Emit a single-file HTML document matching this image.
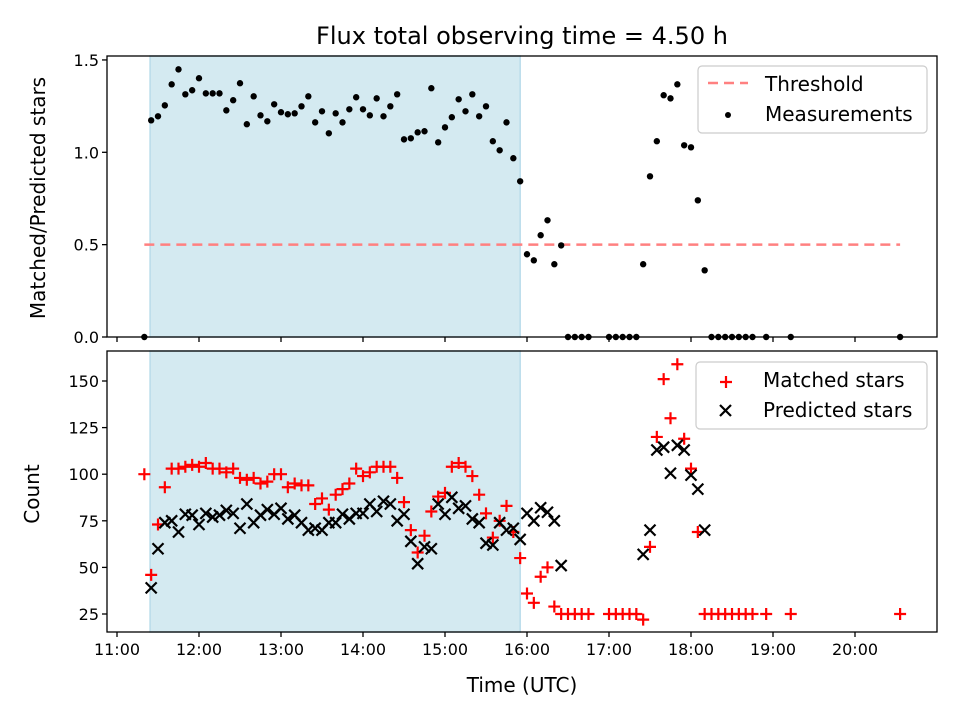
<!DOCTYPE html>
<html><head><meta charset="utf-8"><style>
body{margin:0;background:#fff;}
svg{display:block;font-family:"DejaVu Sans","Liberation Sans",sans-serif;}
</style></head><body>
<svg id="chart" width="960" height="720" viewBox="0 0 960 720">
<text x="522" y="44" font-size="24" text-anchor="middle">Flux total observing time = 4.50 h</text>
<g id="topPanel"></g>
<g id="botPanel"></g>
<text x="45" y="198" font-size="20" text-anchor="middle" transform="rotate(-90 45 198)">Matched/Predicted stars</text>
<text x="39" y="494" font-size="20" text-anchor="middle" transform="rotate(-90 39 494)">Count</text>
<text x="522" y="692" font-size="20" text-anchor="middle">Time (UTC)</text>
<g>
<rect x="698" y="66" width="229" height="67" rx="4" fill="#fff" fill-opacity="0.8" stroke="#ccc" stroke-width="1.2"/>
<line x1="708" x2="748" y1="83" y2="83" stroke="#ff8080" stroke-width="2.5" stroke-dasharray="10 6"/>
<text x="765" y="91" font-size="20">Threshold</text>
<circle cx="728" cy="115" r="3" fill="#000"/>
<text x="765" y="121" font-size="20">Measurements</text>
</g>
<g>
<rect x="696" y="362" width="231" height="67" rx="4" fill="#fff" fill-opacity="0.8" stroke="#ccc" stroke-width="1.2"/>
<path d="M720 382H732M726 376V388" stroke="#ff0000" stroke-width="2.2"/>
<text x="763" y="387" font-size="20">Matched stars</text>
<path d="M720 405L731 416M720 416L731 405" stroke="#000" stroke-width="2.2"/>
<text x="763" y="417" font-size="20">Predicted stars</text>
</g>
</svg>
<script>
// times in minutes after 11:00 UTC
const ratioTimes = [20,25,30,35,40,45,50,55,60,65,70,75,80,85,90,95,100,105,110,115,120,125,130,135,140,145,150,155,160,165,170,175,180,185,190,195,200,205,210,215,220,225,230,235,240,245,250,255,260,265,270,275,280,285,290,295,300,305,310,315,320,325,330,335,340,345,360,365,370,375,380,385,390,395,400,405,410,415,420,425,430,435,440,445,450,455,460,465,475,493,573];
const ratioValues = [0,1.173,1.195,1.254,1.368,1.449,1.314,1.336,1.401,1.319,1.319,1.319,1.227,1.282,1.374,1.152,1.303,1.200,1.168,1.260,1.217,1.206,1.211,1.249,1.303,1.162,1.222,1.103,1.211,1.162,1.233,1.298,1.233,1.200,1.292,1.195,1.249,1.314,1.070,1.076,1.108,1.114,1.347,1.054,1.135,1.190,1.287,1.222,1.314,1.195,1.249,1.060,1.011,1.162,0.968,0.843,0.448,0.415,0.551,0.632,0.394,0.496,0,0,0,0,0,0,0,0,0,0.394,0.870,1.060,1.309,1.292,1.368,1.038,1.027,0.740,0.361,0,0,0,0,0,0,0,0,0,0];
const matchedTimes = [20,25,30,35,40,45,50,55,60,65,70,75,80,85,90,95,100,105,110,115,120,125,130,135,140,145,150,155,160,165,170,175,180,185,190,195,200,205,210,215,220,225,230,235,240,245,250,255,260,265,270,275,280,285,290,295,300,305,310,315,320,325,330,335,340,345,360,365,370,375,380,385,390,395,400,405,410,415,420,425,430,435,440,445,450,455,460,465,475,493,573];
const matchedValues = [100,46,73,93,103,103,104,105,104,106,103,103,101,103,98,97,98,95,96,100,100,93,95,94,94,84,87,81,89,92,95,103,99,101,104,104,104,98,85,70,58,67,80,88,90,104,106,104,99,89,79,66,75,83,69,55,36,31,45,50,29,25,25,25,25,25,25,25,25,25,25,22,61,120,151,130,159,119,103,69,25,25,25,25,25,25,25,25,25,25,25];
const predictedTimes = [25,30,35,40,45,50,55,60,65,70,75,80,85,90,95,100,105,110,115,120,125,130,135,140,145,150,155,160,165,170,175,180,185,190,195,200,205,210,215,220,225,230,235,240,245,250,255,260,265,270,275,280,285,290,295,300,305,310,315,320,325,385,390,395,400,405,410,415,420,425,430];
const predictedValues = [39,60,74,75,69,78.5,78,73,79,77,78,80.6,79,71,84,74,78,81,78.5,81.7,76,78,74,70,71,70,74,74,78.5,76,79,79,84,80,85.5,84,75,78.5,64,52,61,60,84,78.5,87.6,81.7,83,76,74,63,62,74,70,71,65,79,75,82,79.6,75,51,57,70,113,114.5,100.5,115.5,113,99.5,92,70];
const hourTicks = ["11:00","12:00","13:00","14:00","15:00","16:00","17:00","18:00","19:00","20:00"];
const ratioTicks = [0.0,0.5,1.0,1.5];
const countTicks = [25,50,75,100,125,150];
const threshold = 0.5;
const shadeRange = [24.2,295];
const thresholdRange = [20,573];

const NS="http://www.w3.org/2000/svg";
const L=107,R=937;
const xS=m=>117+m/60*82;
const yT=v=>337-v*184.7;
const yB=v=>614-(v-25)*1.864;
function mk(tag,attrs,parent){const e=document.createElementNS(NS,tag);for(const k in attrs)e.setAttribute(k,attrs[k]);parent.appendChild(e);return e;}
const topG=document.getElementById('topPanel'),botG=document.getElementById('botPanel');

function panel(g,y0,y1,name){
  const s=mk('rect',{x:xS(shadeRange[0]),y:y0,width:xS(shadeRange[1])-xS(shadeRange[0]),height:y1-y0,fill:'#d4eaf1',stroke:'#b9dcea','stroke-width':1.5},g);
  
  
}
panel(topG,56,337,'top');
panel(botG,351,632,'bottom');

const th=mk('line',{x1:xS(thresholdRange[0]),x2:xS(thresholdRange[1]),y1:yT(threshold),y2:yT(threshold),stroke:'#ff8080','stroke-width':2.5,'stroke-dasharray':'10 6'},topG);



ratioTimes.forEach((t,i)=>{
  const c=mk('circle',{cx:xS(t),cy:yT(ratioValues[i]),r:3.2,fill:'#000'},topG);
  
  
});
matchedTimes.forEach((t,i)=>{
  const x=xS(t),y=yB(matchedValues[i]);
  const p=mk('path',{d:`M${x-6} ${y}H${x+6}M${x} ${y-6}V${y+6}`,stroke:'#ff0000','stroke-width':2.2,fill:'none'},botG);
  
  
});
predictedTimes.forEach((t,i)=>{
  const x=xS(t),y=yB(predictedValues[i]);
  const p=mk('path',{d:`M${x-5.5} ${y-5.5}L${x+5.5} ${y+5.5}M${x-5.5} ${y+5.5}L${x+5.5} ${y-5.5}`,stroke:'#000','stroke-width':2.2,fill:'none'},botG);
  
  
});

function frame(g,y0,y1,labels){
  mk('rect',{x:L,y:y0,width:R-L,height:y1-y0,fill:'none',stroke:'#000','stroke-width':1.3},g);
  hourTicks.forEach((h,i)=>{
    const x=xS(i*60);
    mk('line',{x1:x,x2:x,y1:y1,y2:y1+5,stroke:'#000','stroke-width':1.3},g);
    if(labels){
      const t=mk('text',{x:x,y:y1+23,'font-size':16,'text-anchor':'middle'},g);
      t.textContent=h;
      
      
    }
  });
}
frame(topG,56,337,false);
frame(botG,351,632,true);
ratioTicks.forEach(v=>{
  const y=yT(v);
  mk('line',{x1:L-5,x2:L,y1:y,y2:y,stroke:'#000','stroke-width':1.3},topG);
  const t=mk('text',{x:L-8,y:y+6,'font-size':16,'text-anchor':'end'},topG);
  t.textContent=v.toFixed(1);
  
  
});
countTicks.forEach(v=>{
  const y=yB(v);
  mk('line',{x1:L-5,x2:L,y1:y,y2:y,stroke:'#000','stroke-width':1.3},botG);
  const t=mk('text',{x:L-8,y:y+6,'font-size':16,'text-anchor':'end'},botG);
  t.textContent=v;
  
  
});
</script>
</body></html>
